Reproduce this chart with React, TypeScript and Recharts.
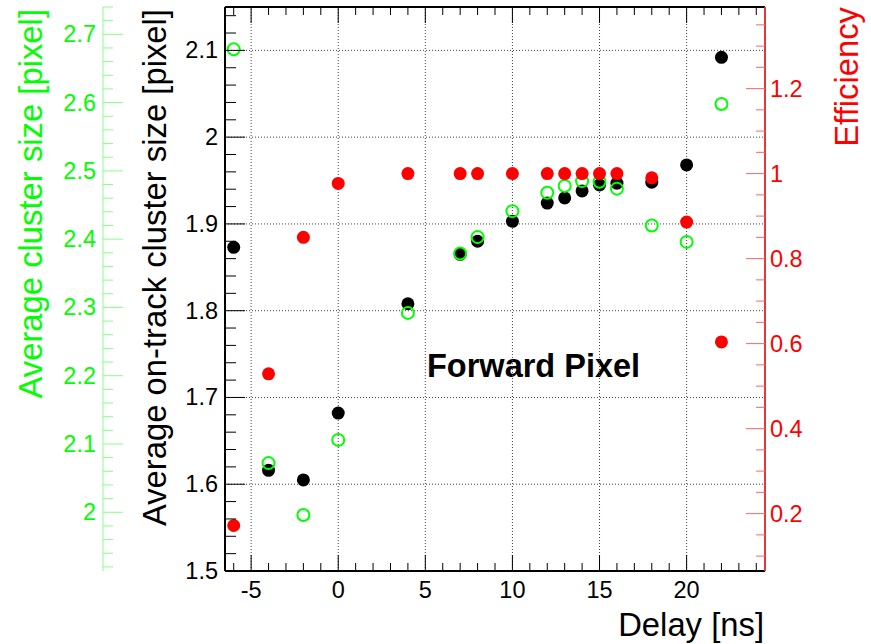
import React from 'react';
import { ComposedChart, Scatter, XAxis, YAxis, ReferenceLine } from 'recharts';

// ---- data ----
const delays = [-6, -4, -2, 0, 4, 7, 8, 10, 12, 13, 14, 15, 16, 18, 20, 22];
const onTrackSize = [1.873, 1.616, 1.605, 1.682, 1.808, 1.865, 1.880, 1.903, 1.924, 1.930, 1.938, 1.945, 1.947, 1.948, 1.968, 2.092];
const clusterSize = [2.678, 2.072, 1.996, 2.106, 2.292, 2.379, 2.403, 2.441, 2.468, 2.478, 2.485, 2.484, 2.474, 2.420, 2.396, 2.598];
const efficiency = [0.172, 0.529, 0.850, 0.977, 1.0, 1.0, 1.0, 1.0, 1.0, 1.0, 1.0, 1.0, 1.0, 0.99, 0.886, 0.604];

// ---- ticks / grid ----
const xMajorTicks = [-5, 0, 5, 10, 15, 20];
const xMinorTicks = [-6, -4, -3, -2, -1, 1, 2, 3, 4, 6, 7, 8, 9, 11, 12, 13, 14, 16, 17, 18, 19, 21, 22, 23, 24];
const blackMajorTicks = [1.5, 1.6, 1.7, 1.8, 1.9, 2.0, 2.1];
const greenMajorTicks = [2.0, 2.1, 2.2, 2.3, 2.4, 2.5, 2.6, 2.7];
const redMajorTicks = [0.2, 0.4, 0.6, 0.8, 1.0, 1.2];
const xGrid = [-5, 0, 5, 10, 15, 20];
const yGrid = [1.6, 1.7, 1.8, 1.9, 2.0, 2.1];

const xDomain = [-6.5, 24.5];
const blackDomain = [1.5, 2.15];
const greenDomain = [1.914, 2.74];
const redDomain = [0.065, 1.392];

const FONT = '"Liberation Sans", Arial, Helvetica, sans-serif';
const GREEN = '#00ff00';
const RED = '#ff0000';
const TICK_FS = 23.5;
const TITLE_FS = 32.8;

function stepTicks(min: number, max: number, step: number): number[] {
  const out: number[] = [];
  const n = Math.round((max - min) / step);
  for (let i = 0; i <= n; i++) out.push(Number((min + i * step).toFixed(4)));
  return out;
}
const blackTicks = stepTicks(1.5, 2.14, 0.02);
const greenTicks = stepTicks(1.92, 2.74, 0.02);
const redTicks = stepTicks(0.1, 1.35, 0.05);
const xTicks = [...xMajorTicks, ...xMinorTicks].sort((a, b) => a - b);

const isIn = (v: number, arr: number[]) => arr.some((m) => Math.abs(m - v) < 1e-6);
const fmt = (v: number) => String(Number(v.toFixed(2)));

const toPts = (ys: number[]) => delays.map((d, i) => ({ x: d, y: ys[i] }));
const blackPts = toPts(onTrackSize);
const greenPts = toPts(clusterSize);
const redPts = toPts(efficiency);

type TickOpts = {
  majors: number[];
  dir: number;
  majorLen: number;
  minorLen: number;
  tickColor: string;
  labelColor: string;
  labelDx: number;
  anchor: 'start' | 'end';
};

const makeYTick = (o: TickOpts) => (props: any) => {
  const { x, y, payload } = props;
  const v = payload.value as number;
  const major = isIn(v, o.majors);
  const len = major ? o.majorLen : o.minorLen;
  return (
    <g>
      <line x1={x} x2={x + o.dir * len} y1={y} y2={y} stroke={o.tickColor} strokeWidth={1} />
      {major && (
        <text x={x + o.labelDx} y={y} textAnchor={o.anchor} dominantBaseline="central" fill={o.labelColor} fontSize={TICK_FS} fontFamily={FONT}>
          {fmt(v)}
        </text>
      )}
    </g>
  );
};

const BottomTick = (props: any) => {
  const { x, y, payload } = props;
  const v = payload.value as number;
  const major = isIn(v, xMajorTicks);
  return (
    <g>
      <line x1={x} x2={x} y1={y} y2={y - (major ? 16 : 8)} stroke="#000" strokeWidth={1} />
      {major && (
        <text x={x} y={y + 19} textAnchor="middle" dominantBaseline="central" fill="#000" fontSize={TICK_FS} fontFamily={FONT}>
          {fmt(v)}
        </text>
      )}
    </g>
  );
};

const TopTick = (props: any) => {
  const { x, y, payload } = props;
  const v = payload.value as number;
  const major = isIn(v, xMajorTicks);
  return <line x1={x} x2={x} y1={y} y2={y + (major ? 16 : 8)} stroke="#000" strokeWidth={1} />;
};

const blackTick = makeYTick({ majors: blackMajorTicks, dir: 1, majorLen: 20, minorLen: 11, tickColor: '#000', labelColor: '#000', labelDx: -7, anchor: 'end' });
const greenTick = makeYTick({ majors: greenMajorTicks, dir: 1, majorLen: 20, minorLen: 10, tickColor: '#88ff88', labelColor: GREEN, labelDx: -7, anchor: 'end' });
const redTick = makeYTick({ majors: redMajorTicks, dir: -1, majorLen: 19, minorLen: 9, tickColor: '#ff6666', labelColor: RED, labelDx: 5, anchor: 'start' });

const FilledDot = (color: string) => (props: any) => <circle cx={props.cx} cy={props.cy} r={6.5} fill={color} />;
const OpenDot = (props: any) => <circle cx={props.cx} cy={props.cy} r={6} fill="none" stroke={GREEN} strokeWidth={2} />;

export default function App() {
  return (
    <div style={{ position: 'absolute', left: 0, top: 0, width: 871, height: 644, background: '#fff' }}>
      <ComposedChart width={871} height={644} margin={{ top: 0, right: 0, bottom: 0, left: 0 }}>
        <XAxis
          xAxisId="bottom"
          dataKey="x"
          type="number"
          domain={xDomain}
          allowDataOverflow
          ticks={xTicks}
          interval={0}
          height={73}
          tickSize={0}
          tickMargin={0}
          tickLine={false}
          tick={BottomTick}
          axisLine={{ stroke: '#000', strokeWidth: 2 }}
        />
        <XAxis
          xAxisId="top"
          orientation="top"
          dataKey="x"
          type="number"
          domain={xDomain}
          allowDataOverflow
          ticks={xTicks}
          interval={0}
          height={7}
          tickSize={0}
          tickMargin={0}
          tickLine={false}
          tick={TopTick}
          axisLine={{ stroke: '#000', strokeWidth: 2 }}
        />
        <YAxis
          yAxisId="black"
          dataKey="y"
          type="number"
          domain={blackDomain}
          allowDataOverflow
          ticks={blackTicks}
          interval={0}
          width={122}
          tickSize={0}
          tickMargin={0}
          tickLine={false}
          tick={blackTick}
          axisLine={{ stroke: '#000', strokeWidth: 2 }}
        />
        <YAxis
          yAxisId="green"
          dataKey="y"
          type="number"
          domain={greenDomain}
          allowDataOverflow
          ticks={greenTicks}
          interval={0}
          width={103}
          tickSize={0}
          tickMargin={0}
          tickLine={false}
          tick={greenTick}
          axisLine={{ stroke: '#88ff88', strokeWidth: 1 }}
        />
        <YAxis
          yAxisId="red"
          orientation="right"
          dataKey="y"
          type="number"
          domain={redDomain}
          allowDataOverflow
          ticks={redTicks}
          interval={0}
          width={106}
          tickSize={0}
          tickMargin={0}
          tickLine={false}
          tick={redTick}
          axisLine={{ stroke: '#e03a3a', strokeWidth: 2 }}
        />
        {xGrid.map((v) => (
          <ReferenceLine key={'gx' + v} x={v} xAxisId="bottom" yAxisId="black" stroke="#444" strokeDasharray="1 2" strokeWidth={1} />
        ))}
        {yGrid.map((v) => (
          <ReferenceLine key={'gy' + v} y={v} xAxisId="bottom" yAxisId="black" stroke="#444" strokeDasharray="1 2" strokeWidth={1} />
        ))}
        <Scatter data={blackPts} xAxisId="bottom" yAxisId="black" dataKey="y" shape={FilledDot('#000')} isAnimationActive={false} />
        <Scatter data={greenPts} xAxisId="bottom" yAxisId="green" dataKey="y" shape={OpenDot} isAnimationActive={false} />
        <Scatter data={redPts} xAxisId="bottom" yAxisId="red" dataKey="y" shape={FilledDot(RED)} isAnimationActive={false} />
        <text x={427} y={377} fontSize={32.5} fontWeight="bold" fontFamily={FONT} fill="#000">Forward Pixel</text>
        <text x={764} y={636} textAnchor="end" fontSize={TITLE_FS} fontFamily={FONT} fill="#000">Delay [ns]</text>
        <text transform="translate(166,9) rotate(-90)" textAnchor="end" fontSize={TITLE_FS} fontFamily={FONT} fill="#000">Average on-track cluster size [pixel]</text>
        <text transform="translate(42,9) rotate(-90)" textAnchor="end" fontSize={TITLE_FS} fontFamily={FONT} fill={GREEN}>Average cluster size [pixel]</text>
        <text transform="translate(858,7) rotate(-90)" textAnchor="end" fontSize={TITLE_FS} fontFamily={FONT} fill={RED}>Efficiency</text>
      </ComposedChart>
    </div>
  );
}
